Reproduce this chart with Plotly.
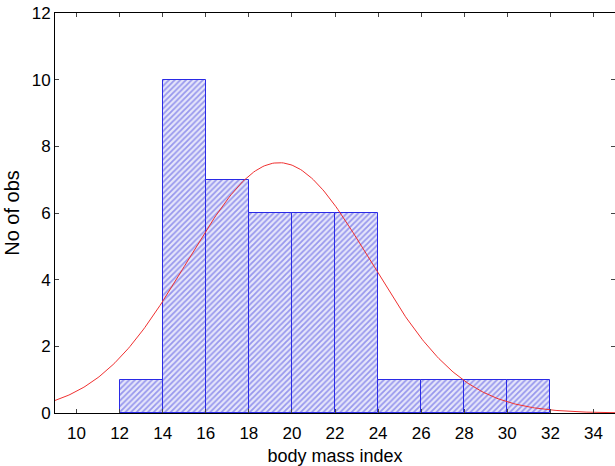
import numpy as np
import plotly.graph_objects as go

bin_left = [12, 14, 16, 18, 20, 22, 24, 26, 28, 30]
bin_width = 2
counts = [1, 10, 7, 6, 6, 6, 1, 1, 1, 1]
x_ticks = [10, 12, 14, 16, 18, 20, 22, 24, 26, 28, 30, 32, 34]
y_ticks = [0, 2, 4, 6, 8, 10, 12]
fit_mean = 19.4
fit_sd = 4.25

n_obs = sum(counts)
xc = np.linspace(9, 35, 300)
yc = n_obs * bin_width / (fit_sd * np.sqrt(2 * np.pi)) * np.exp(-0.5 * ((xc - fit_mean) / fit_sd) ** 2)

fig = go.Figure()
fig.add_trace(go.Bar(
    x=[b + bin_width / 2 for b in bin_left], y=counts, width=bin_width,
    marker=dict(color="white", line=dict(color="#2a2ae6", width=1),
                pattern=dict(shape="/", fgcolor="#4848e0", bgcolor="#e6e6fa", size=4, solidity=0.45)),
    showlegend=False))
fig.add_trace(go.Scatter(x=xc, y=yc, mode="lines", line=dict(color="#f03030", width=1), showlegend=False))

axis_font = dict(family="Liberation Sans, Arial, sans-serif", size=17, color="black")
fig.update_layout(
    width=615, height=466, margin=dict(l=55, r=0, t=13, b=53),
    paper_bgcolor="white", plot_bgcolor="white", bargap=0,
    font=dict(family="Liberation Sans, Arial, sans-serif", color="black"),
    xaxis=dict(range=[9, 35], tickvals=x_ticks, ticks="inside", ticklen=4, tickcolor="#444",
               showline=True, linecolor="black", linewidth=1, mirror="ticks", showgrid=False,
               zeroline=False, tickfont=axis_font, automargin=False, ticklabelstandoff=5,
               ticklabeloverflow="allow",
               title=dict(text="body mass index", font=dict(size=18), standoff=6)),
    yaxis=dict(range=[0, 12], tickvals=y_ticks, ticks="inside", ticklen=4, tickcolor="#444",
               showline=True, linecolor="black", linewidth=1, mirror="ticks", showgrid=False,
               zeroline=False, tickfont=axis_font, automargin=False, ticklabeloverflow="allow",
               title=dict(text="No of obs", font=dict(size=20), standoff=6)),
)
fig.write_html("out.html", config={"displayModeBar": False},
               post_script="document.body.style.margin='0';")
